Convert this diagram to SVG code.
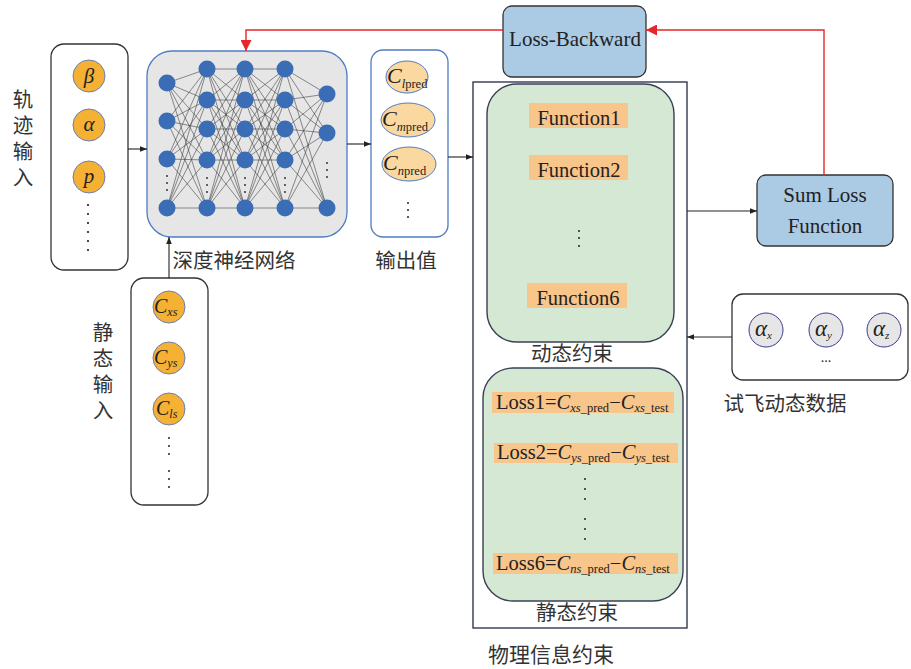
<svg xmlns="http://www.w3.org/2000/svg" width="911" height="669" viewBox="0 0 911 669">
  <defs>
    <marker id="arrowBlack" viewBox="0 0 10 10" refX="10" refY="5" markerWidth="7" markerHeight="7" orient="auto" markerUnits="userSpaceOnUse">
      <path d="M0,1 L10,5 L0,9 z" fill="#222"/>
    </marker>
    <marker id="arrowRed" viewBox="0 0 10 10" refX="10" refY="5" markerWidth="11" markerHeight="11" orient="auto" markerUnits="userSpaceOnUse">
      <path d="M0,0 L10,5 L0,10 z" fill="#e8262a"/>
    </marker>
  </defs>
  <style>
    .cjk { font-family: "Noto Sans CJK SC", "Noto Sans", sans-serif; fill: #333; }
    .vert { writing-mode: vertical-rl; letter-spacing: 5.5px; }
    .serif { font-family: "Liberation Serif", "Times New Roman", serif; fill: #222; }
    .it { font-style: italic; }
    .box { fill: #fff; stroke: #333; stroke-width: 1.3; }
    .inCircle { fill: #f4b134; stroke: #6a7fb5; stroke-width: 1; }
    .outEll { fill: #fad8a0; stroke: #4f7cc4; stroke-width: 1; }
    .nnNode { fill: #3a6db5; }
    .nnLink { stroke: #333; stroke-width: 0.55; }
    .green { fill: #d5e8d4; stroke: #3a3f55; stroke-width: 1.4; }
    .tag { fill: #f8c58a; }
    .blueBox { fill: #abcae3; stroke: #333; stroke-width: 1.3; }
    .gray { fill: #e6e6e6; stroke: #3c3c8c; stroke-width: 1; }
    .conn { stroke: #222; stroke-width: 1.1; fill: none; }
    .red { stroke: #e8262a; stroke-width: 1.4; fill: none; }
    .dot { fill: #222; }
  </style>

  <!-- trajectory input -->
  <g id="trajectory-input">
    <rect class="box" x="51" y="44" width="77" height="226" rx="13"/>
    <circle class="inCircle" cx="89" cy="76" r="16"/>
    <circle class="inCircle" cx="89" cy="125" r="16"/>
    <circle class="inCircle" cx="89" cy="177" r="16"/>
    <text class="serif it" x="89" y="83" font-size="21" text-anchor="middle">β</text>
    <text class="serif it" x="89" y="131" font-size="21" text-anchor="middle">α</text>
    <text class="serif it" x="89" y="183" font-size="21" text-anchor="middle">p</text>
    <g class="dot">
      <circle cx="88" cy="205" r="1.1"/><circle cx="88" cy="214" r="1.1"/><circle cx="88" cy="223" r="1.1"/>
      <circle cx="88" cy="232" r="1.1"/><circle cx="88" cy="241" r="1.1"/><circle cx="88" cy="250" r="1.1"/>
    </g>
    <text class="cjk vert" x="23" y="89" font-size="20.5">轨迹输入</text>
  </g>

  <!-- deep neural network -->
  <g id="dnn">
    <rect x="147" y="51" width="200" height="186" rx="25" fill="#e6e6e6" stroke="#4f7cc4" stroke-width="1.3"/>
    <g class="nnLink">
      <!-- layer 1 -> layer 2 -->
      <path d="M167,83 L207,69 M167,83 L207,100 M167,83 L207,129 M167,83 L207,160 M167,83 L207,208
               M167,121 L207,69 M167,121 L207,100 M167,121 L207,129 M167,121 L207,160 M167,121 L207,208
               M167,159 L207,69 M167,159 L207,100 M167,159 L207,129 M167,159 L207,160 M167,159 L207,208
               M167,208 L207,69 M167,208 L207,100 M167,208 L207,129 M167,208 L207,160 M167,208 L207,208"/>
      <!-- layer 2 -> layer 3 -->
      <path d="M207,69 L245,69 M207,69 L245,100 M207,69 L245,129 M207,69 L245,160 M207,69 L245,208
               M207,100 L245,69 M207,100 L245,100 M207,100 L245,129 M207,100 L245,160 M207,100 L245,208
               M207,129 L245,69 M207,129 L245,100 M207,129 L245,129 M207,129 L245,160 M207,129 L245,208
               M207,160 L245,69 M207,160 L245,100 M207,160 L245,129 M207,160 L245,160 M207,160 L245,208
               M207,208 L245,69 M207,208 L245,100 M207,208 L245,129 M207,208 L245,160 M207,208 L245,208"/>
      <!-- layer 3 -> layer 4 -->
      <path d="M245,69 L285,69 M245,69 L285,100 M245,69 L285,129 M245,69 L285,160 M245,69 L285,208
               M245,100 L285,69 M245,100 L285,100 M245,100 L285,129 M245,100 L285,160 M245,100 L285,208
               M245,129 L285,69 M245,129 L285,100 M245,129 L285,129 M245,129 L285,160 M245,129 L285,208
               M245,160 L285,69 M245,160 L285,100 M245,160 L285,129 M245,160 L285,160 M245,160 L285,208
               M245,208 L285,69 M245,208 L285,100 M245,208 L285,129 M245,208 L285,160 M245,208 L285,208"/>
      <!-- layer 4 -> layer 5 -->
      <path d="M285,69 L327,94 M285,69 L327,133 M285,69 L327,208
               M285,100 L327,94 M285,100 L327,133 M285,100 L327,208
               M285,129 L327,94 M285,129 L327,133 M285,129 L327,208
               M285,160 L327,94 M285,160 L327,133 M285,160 L327,208
               M285,208 L327,94 M285,208 L327,133 M285,208 L327,208"/>
    </g>
    <g class="nnNode">
      <circle cx="167" cy="83" r="8.5"/><circle cx="167" cy="121" r="8.5"/><circle cx="167" cy="159" r="8.5"/><circle cx="167" cy="208" r="8.5"/>
      <circle cx="207" cy="69" r="8.5"/><circle cx="207" cy="100" r="8.5"/><circle cx="207" cy="129" r="8.5"/><circle cx="207" cy="160" r="8.5"/><circle cx="207" cy="208" r="8.5"/>
      <circle cx="245" cy="69" r="8.5"/><circle cx="245" cy="100" r="8.5"/><circle cx="245" cy="129" r="8.5"/><circle cx="245" cy="160" r="8.5"/><circle cx="245" cy="208" r="8.5"/>
      <circle cx="285" cy="69" r="8.5"/><circle cx="285" cy="100" r="8.5"/><circle cx="285" cy="129" r="8.5"/><circle cx="285" cy="160" r="8.5"/><circle cx="285" cy="208" r="8.5"/>
      <circle cx="327" cy="94" r="8.5"/><circle cx="327" cy="133" r="8.5"/><circle cx="327" cy="208" r="8.5"/>
    </g>
    <g class="dot">
      <circle cx="167" cy="176" r="0.9"/><circle cx="167" cy="183" r="0.9"/><circle cx="167" cy="190" r="0.9"/>
      <circle cx="207" cy="178" r="0.9"/><circle cx="207" cy="185" r="0.9"/><circle cx="207" cy="192" r="0.9"/>
      <circle cx="245" cy="178" r="0.9"/><circle cx="245" cy="185" r="0.9"/><circle cx="245" cy="192" r="0.9"/>
      <circle cx="285" cy="178" r="0.9"/><circle cx="285" cy="185" r="0.9"/><circle cx="285" cy="192" r="0.9"/>
      <circle cx="327" cy="163" r="0.9"/><circle cx="327" cy="170" r="0.9"/><circle cx="327" cy="177" r="0.9"/>
    </g>
    <text class="cjk" x="234" y="268" font-size="20.5" text-anchor="middle">深度神经网络</text>
  </g>

  <!-- predicted outputs -->
  <g id="outputs">
    <rect x="371" y="50" width="77" height="187" rx="12" fill="#fff" stroke="#4f7cc4" stroke-width="1.3"/>
    <ellipse class="outEll" cx="407" cy="77" rx="21" ry="16"/>
    <ellipse class="outEll" cx="408" cy="120" rx="27" ry="17"/>
    <ellipse class="outEll" cx="409" cy="164" rx="27" ry="17"/>
    <text class="serif" x="387" y="83" font-size="22"><tspan class="it">C</tspan><tspan class="it" font-size="12.5" dy="5">l</tspan><tspan font-size="12.5">pred</tspan></text>
    <text class="serif" x="382" y="126" font-size="22"><tspan class="it">C</tspan><tspan class="it" font-size="12.5" dy="5">m</tspan><tspan font-size="12.5">pred</tspan></text>
    <text class="serif" x="383" y="170" font-size="22"><tspan class="it">C</tspan><tspan class="it" font-size="12.5" dy="5">n</tspan><tspan font-size="12.5">pred</tspan></text>
    <g class="dot">
      <circle cx="408" cy="203" r="1"/><circle cx="408" cy="210" r="1"/><circle cx="408" cy="217" r="1"/>
    </g>
    <text class="cjk" x="406" y="268" font-size="20.5" text-anchor="middle">输出值</text>
  </g>

  <!-- static input -->
  <g id="static-input">
    <rect class="box" x="131" y="278" width="77" height="227" rx="13"/>
    <circle class="inCircle" cx="169" cy="307" r="16"/>
    <circle class="inCircle" cx="169" cy="358" r="16"/>
    <circle class="inCircle" cx="169" cy="409" r="16"/>
    <text class="serif" x="154" y="313" font-size="20"><tspan class="it">C</tspan><tspan font-size="12" dy="3" class="it">xs</tspan></text>
    <text class="serif" x="154" y="364" font-size="20"><tspan class="it">C</tspan><tspan font-size="12" dy="3" class="it">ys</tspan></text>
    <text class="serif" x="156" y="415" font-size="20"><tspan class="it">C</tspan><tspan font-size="12" dy="3" class="it">ls</tspan></text>
    <g class="dot">
      <circle cx="169" cy="438" r="1"/><circle cx="169" cy="446" r="1"/><circle cx="169" cy="454" r="1"/>
      <circle cx="169" cy="471" r="1"/><circle cx="169" cy="479" r="1"/><circle cx="169" cy="487" r="1"/>
    </g>
    <text class="cjk vert" x="103" y="322" font-size="20.5">静态输入</text>
  </g>

  <!-- physics-informed constraints -->
  <g id="physics-constraints">
    <rect x="473" y="82" width="214" height="546" fill="#fff" stroke="#222a44" stroke-width="1.3"/>
    <text class="cjk" x="551" y="662" font-size="21" text-anchor="middle">物理信息约束</text>
  </g>

  <g id="dynamic-constraints">
    <rect class="green" x="487" y="84" width="187" height="258" rx="30"/>
    <rect class="tag" x="529" y="103" width="99" height="25"/>
    <rect class="tag" x="529" y="155" width="99" height="25"/>
    <rect class="tag" x="527" y="283" width="100" height="25"/>
    <text class="serif" x="579" y="125" font-size="20.5" text-anchor="middle">Function1</text>
    <text class="serif" x="579" y="177" font-size="20.5" text-anchor="middle">Function2</text>
    <text class="serif" x="578" y="305" font-size="20.5" text-anchor="middle">Function6</text>
    <g class="dot">
      <circle cx="579" cy="231" r="1"/><circle cx="579" cy="238" r="1"/><circle cx="579" cy="246" r="1"/>
    </g>
    <text class="cjk" x="572" y="361" font-size="20.5" text-anchor="middle">动态约束</text>
  </g>

  <g id="static-constraints">
    <rect class="green" x="483" y="368" width="200" height="233" rx="30"/>
    <rect class="tag" x="492" y="392" width="182" height="21"/>
    <rect class="tag" x="494" y="443" width="184" height="20"/>
    <rect class="tag" x="493" y="553" width="185" height="21"/>
    <text class="serif" x="496" y="409" font-size="20.5">Loss1=<tspan class="it">C</tspan><tspan font-size="12.5" dy="3"><tspan class="it">xs</tspan>_pred</tspan><tspan dy="-3">−</tspan><tspan class="it">C</tspan><tspan font-size="12.5" dy="3"><tspan class="it">xs</tspan>_test</tspan></text>
    <text class="serif" x="497" y="459" font-size="20.5">Loss2=<tspan class="it">C</tspan><tspan font-size="12.5" dy="3"><tspan class="it">ys</tspan>_pred</tspan><tspan dy="-3">−</tspan><tspan class="it">C</tspan><tspan font-size="12.5" dy="3"><tspan class="it">ys</tspan>_test</tspan></text>
    <text class="serif" x="496" y="570" font-size="20.5">Loss6=<tspan class="it">C</tspan><tspan font-size="12.5" dy="3"><tspan class="it">ns</tspan>_pred</tspan><tspan dy="-3">−</tspan><tspan class="it">C</tspan><tspan font-size="12.5" dy="3"><tspan class="it">ns</tspan>_test</tspan></text>
    <g class="dot">
      <circle cx="585" cy="479" r="1"/><circle cx="585" cy="489" r="1"/><circle cx="585" cy="499" r="1"/>
      <circle cx="585" cy="519" r="1"/><circle cx="585" cy="529" r="1"/><circle cx="585" cy="539" r="1"/>
    </g>
    <text class="cjk" x="577" y="620" font-size="20.5" text-anchor="middle">静态约束</text>
  </g>

  <!-- loss nodes -->
  <g id="loss-backward">
    <rect class="blueBox" x="503" y="6" width="143" height="71" rx="9"/>
    <text class="serif" x="575" y="46" font-size="21" text-anchor="middle">Loss-Backward</text>
  </g>

  <g id="sum-loss">
    <rect class="blueBox" x="757" y="175" width="136" height="71" rx="9"/>
    <text class="serif" x="825" y="202" font-size="21" text-anchor="middle">Sum Loss</text>
    <text class="serif" x="825" y="233" font-size="21" text-anchor="middle">Function</text>
  </g>

  <!-- flight test data -->
  <g id="flight-data">
    <rect class="box" x="732" y="294" width="176" height="86" rx="11"/>
    <circle class="gray" cx="766" cy="330" r="17"/>
    <circle class="gray" cx="826" cy="330" r="17"/>
    <circle class="gray" cx="884" cy="330" r="17"/>
    <text class="serif" x="755" y="336" font-size="23"><tspan class="it">α</tspan><tspan class="it" font-size="11" dy="3">x</tspan></text>
    <text class="serif" x="815" y="336" font-size="23"><tspan class="it">α</tspan><tspan class="it" font-size="11" dy="3">y</tspan></text>
    <text class="serif" x="873" y="336" font-size="23"><tspan class="it">α</tspan><tspan class="it" font-size="11" dy="3">z</tspan></text>
    <text class="serif" x="826" y="362" font-size="14" text-anchor="middle">...</text>
    <text class="cjk" x="785" y="411" font-size="20.5" text-anchor="middle">试飞动态数据</text>
  </g>

  <!-- connectors -->
  <g id="connectors">
    <path class="conn" d="M128,149 H147" marker-end="url(#arrowBlack)"/>
    <path class="conn" d="M169,278 V237" marker-end="url(#arrowBlack)"/>
    <path class="conn" d="M347,144 H371" marker-end="url(#arrowBlack)"/>
    <path class="conn" d="M448,157 H473" marker-end="url(#arrowBlack)"/>
    <path class="conn" d="M687,211 H757" marker-end="url(#arrowBlack)"/>
    <path class="conn" d="M732,337 H687" marker-end="url(#arrowBlack)"/>
    <path class="red" d="M824,175 V30 H646" marker-end="url(#arrowRed)"/>
    <path class="red" d="M503,30 H246 V51" marker-end="url(#arrowRed)"/>
  </g>
</svg>
